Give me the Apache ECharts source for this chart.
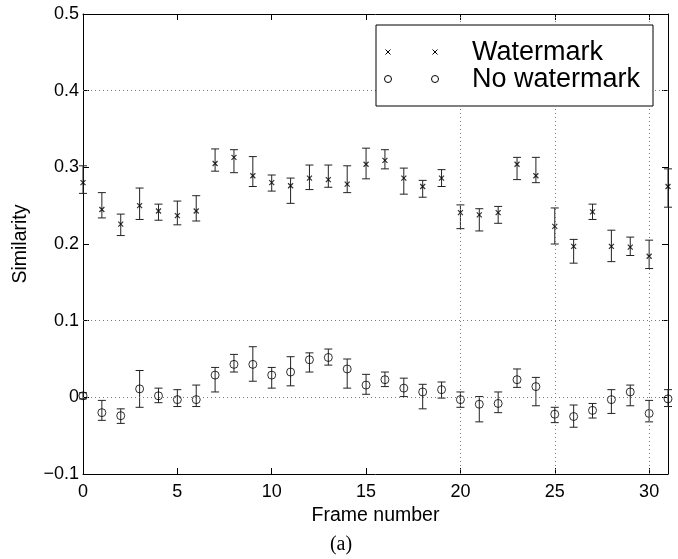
<!DOCTYPE html>
<html>
<head>
<meta charset="utf-8">
<script src="https://cdn.jsdelivr.net/npm/echarts@6/dist/echarts.min.js"></script>
<style>
  html, body { margin: 0; padding: 0; background: #fff; }
  #container { width: 678px; height: 559px; }
</style>
</head>
<body>
<div id="container"></div>
<script>
// frame numbers
var frames = [0,1,2,3,4,5,6,7,8,9,10,11,12,13,14,15,16,17,18,19,20,21,22,23,24,25,26,27,28,29,30,31];

// watermark: mean, upper and lower error bar ends
var wmMean = [0.280,0.245,0.226,0.250,0.243,0.237,0.243,0.305,0.313,0.289,0.280,0.276,0.286,0.284,0.278,0.304,0.309,0.286,0.275,0.286,0.241,0.238,0.241,0.304,0.289,0.223,0.197,0.242,0.197,0.196,0.184,0.275];
var wmHi   = [0.302,0.267,0.239,0.273,0.252,0.256,0.263,0.324,0.323,0.314,0.290,0.286,0.303,0.303,0.302,0.325,0.323,0.299,0.283,0.297,0.251,0.246,0.249,0.313,0.313,0.247,0.206,0.252,0.218,0.209,0.205,0.298];
var wmLo   = [0.266,0.234,0.211,0.232,0.231,0.225,0.230,0.295,0.293,0.275,0.269,0.253,0.271,0.274,0.267,0.285,0.298,0.265,0.261,0.275,0.220,0.217,0.227,0.284,0.280,0.200,0.175,0.232,0.177,0.185,0.168,0.248];

// no watermark
var nwMean = [0.002,-0.020,-0.024,0.011,0.002,-0.003,-0.003,0.029,0.043,0.043,0.029,0.033,0.049,0.052,0.037,0.016,0.023,0.012,0.007,0.010,-0.003,-0.009,-0.008,0.023,0.014,-0.022,-0.025,-0.017,-0.003,0.007,-0.021,-0.002];
var nwHi   = [0.006,-0.004,-0.015,0.035,0.012,0.010,0.016,0.039,0.056,0.066,0.039,0.053,0.058,0.063,0.050,0.030,0.033,0.025,0.017,0.020,0.007,0.001,0.007,0.037,0.026,-0.013,-0.010,-0.008,0.010,0.016,-0.004,0.010];
var nwLo   = [-0.002,-0.030,-0.034,-0.013,-0.007,-0.012,-0.012,0.007,0.033,0.021,0.012,0.015,0.033,0.042,0.012,0.004,0.014,0.001,-0.015,-0.001,-0.013,-0.032,-0.020,0.013,-0.011,-0.033,-0.039,-0.027,-0.021,-0.011,-0.032,-0.012];

// dotted grid lines that survive in the figure
var gridY = [0, 0.1, 0.4];
var gridX = [20, 25, 30];

var seriesNames = ['Watermark', 'No watermark'];

var font = 'Liberation Sans, Arial, Helvetica, sans-serif';
var crossPath = 'path://M0,0L10,10M0,10L10,0';

var myChart = echarts.init(document.getElementById('container'));

function pairs(ys) {
  return frames.map(function (f, i) { return [f, ys[i]]; });
}
function bars(lo, hi) {
  return frames.map(function (f, i) { return [f, lo[i], hi[i]]; });
}

// error bar: vertical line with short caps
function renderErr(params, api) {
  var x = api.value(0);
  var top = api.coord([x, api.value(2)]);
  var bot = api.coord([x, api.value(1)]);
  var w = 4;
  var st = { stroke: '#222', lineWidth: 1 };
  return {
    type: 'group',
    children: [
      { type: 'line', shape: { x1: top[0], y1: top[1], x2: bot[0], y2: bot[1] }, style: st },
      { type: 'line', shape: { x1: top[0] - w, y1: top[1], x2: top[0] + w, y2: top[1] }, style: st },
      { type: 'line', shape: { x1: bot[0] - w, y1: bot[1], x2: bot[0] + w, y2: bot[1] }, style: st }
    ]
  };
}

// legend, drawn like the matlab one
function legendItems() {
  var items = [
    { type: 'rect', shape: { x: 376, y: 25, width: 277, height: 81 },
      style: { fill: '#fff', stroke: '#000', lineWidth: 1 }, z: 50 }
  ];
  [388, 435].forEach(function (cx) {
    items.push({ type: 'line', shape: { x1: cx - 2.5, y1: 49.5, x2: cx + 2.5, y2: 54.5 }, style: { stroke: '#000', lineWidth: 1 }, z: 51 });
    items.push({ type: 'line', shape: { x1: cx - 2.5, y1: 54.5, x2: cx + 2.5, y2: 49.5 }, style: { stroke: '#000', lineWidth: 1 }, z: 51 });
    items.push({ type: 'circle', shape: { cx: cx, cy: 79, r: 3.5 }, style: { fill: 'none', stroke: '#000', lineWidth: 1 }, z: 51 });
  });
  items.push({ type: 'text', x: 472, y: 53, z: 51,
    style: { text: seriesNames[0], font: '27px ' + font, fill: '#000', verticalAlign: 'middle' } });
  items.push({ type: 'text', x: 472, y: 80, z: 51,
    style: { text: seriesNames[1], font: '27px ' + font, fill: '#000', verticalAlign: 'middle' } });
  items.push({ type: 'text', x: 341, y: 545, z: 51,
    style: { text: '(a)', font: '20px Liberation Serif, Times New Roman, serif', fill: '#000', align: 'center', verticalAlign: 'middle' } });
  return items;
}

var dotted = { type: [1, 3], color: '#777', width: 1 };
var axisLine = { show: true, onZero: false, lineStyle: { color: '#000', width: 1 } };
var axisTick = { show: true, inside: true, length: 6, lineStyle: { color: '#000' } };

var option = {
  animation: false,
  backgroundColor: '#fff',
  grid: { left: 83, right: 10, top: 14, bottom: 85 },
  xAxis: [
    {
      type: 'value', min: 0, max: 31, interval: 5,
      name: 'Frame number', nameLocation: 'middle', nameGap: 27,
      nameTextStyle: { fontFamily: font, fontSize: 19.5, color: '#000' },
      axisLine: axisLine, axisTick: axisTick,
      axisLabel: { fontFamily: font, fontSize: 18, color: '#000', margin: 9,
        formatter: function (v) { return v % 5 === 0 ? String(v) : ''; } },
      splitLine: { show: false }
    },
    {
      type: 'value', min: 0, max: 31, interval: 5, position: 'top',
      axisLine: axisLine, axisTick: axisTick,
      axisLabel: { show: false },
      splitLine: { show: false }
    }
  ],
  yAxis: [
    {
      type: 'value', min: -0.1, max: 0.5, interval: 0.1,
      name: 'Similarity', nameLocation: 'middle', nameGap: 52, nameRotate: 90,
      nameTextStyle: { fontFamily: font, fontSize: 19.5, color: '#000' },
      axisLine: axisLine, axisTick: axisTick,
      axisLabel: { fontFamily: font, fontSize: 18, color: '#000', margin: 4,
        formatter: function (v) {
          var r = Math.round(v * 10) / 10;
          if (r === 0) return '0';
          return (r < 0 ? '\u2212' : '') + Math.abs(r).toFixed(1);
        } },
      splitLine: { show: false }
    },
    {
      type: 'value', min: -0.1, max: 0.5, interval: 0.1, position: 'right',
      axisLine: axisLine, axisTick: axisTick,
      axisLabel: { show: false },
      splitLine: { show: false }
    }
  ],
  series: [
    {
      name: 'grid', type: 'line', data: [], silent: true,
      markLine: {
        silent: true, symbol: 'none', label: { show: false },
        lineStyle: dotted,
        data: gridY.map(function (v) { return { yAxis: v }; })
          .concat(gridX.map(function (v) { return { xAxis: v }; }))
      }
    },
    {
      name: seriesNames[0] + ' err', type: 'custom', renderItem: renderErr,
      encode: { x: 0, y: [1, 2] }, data: bars(wmLo, wmHi), silent: true, z: 3
    },
    {
      name: seriesNames[1] + ' err', type: 'custom', renderItem: renderErr,
      encode: { x: 0, y: [1, 2] }, data: bars(nwLo, nwHi), silent: true, z: 3
    },
    {
      name: seriesNames[0], type: 'scatter', data: pairs(wmMean),
      symbol: crossPath, symbolSize: 5, clip: false,
      itemStyle: { color: 'transparent', borderColor: '#000', borderWidth: 1.2 }, z: 4
    },
    {
      name: seriesNames[1], type: 'scatter', data: pairs(nwMean),
      symbol: 'circle', symbolSize: 8, clip: false,
      itemStyle: { color: 'transparent', borderColor: '#000', borderWidth: 1 }, z: 4
    }
  ],
  graphic: legendItems()
};

myChart.setOption(option);
</script>
</body>
</html>
